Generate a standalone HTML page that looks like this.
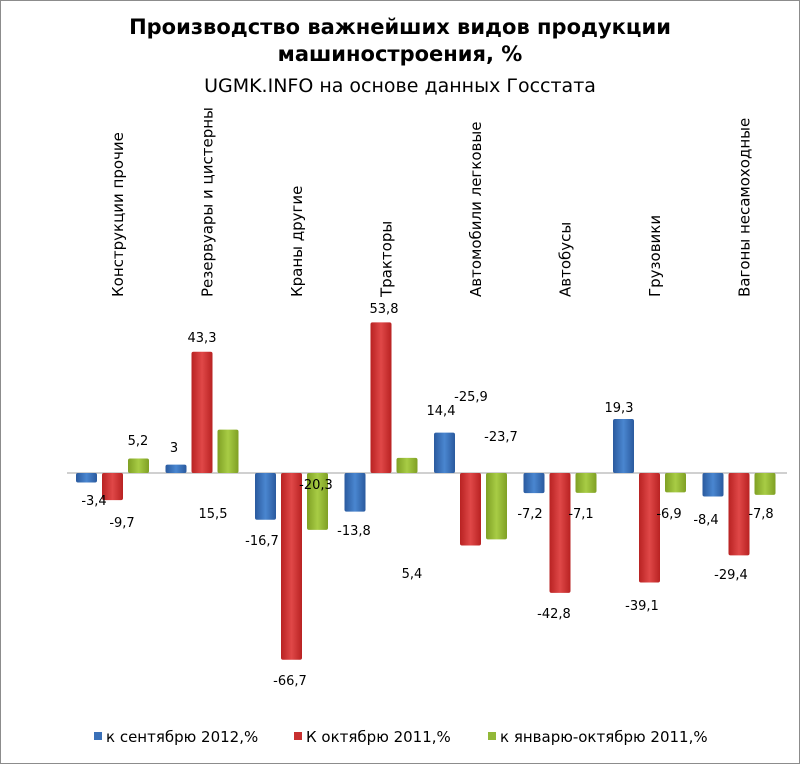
<!DOCTYPE html>
<html><head><meta charset="utf-8"><style>
html,body{margin:0;padding:0;background:#fff}
svg{display:block}
text{font-family:"DejaVu Sans","Liberation Sans",sans-serif;fill:#000}
</style></head><body>
<svg width="800" height="764" viewBox="0 0 800 764">
<defs>
<linearGradient id="b" x1="0" x2="1"><stop offset="0" stop-color="#2a5a9e"/><stop offset=".5" stop-color="#4a86d0"/><stop offset="1" stop-color="#2a5a9e"/></linearGradient>
<linearGradient id="r" x1="0" x2="1"><stop offset="0" stop-color="#b82222"/><stop offset=".5" stop-color="#e04848"/><stop offset="1" stop-color="#b82222"/></linearGradient>
<linearGradient id="g" x1="0" x2="1"><stop offset="0" stop-color="#7fa024"/><stop offset=".5" stop-color="#a8cc45"/><stop offset="1" stop-color="#7fa024"/></linearGradient>
</defs>
<rect x="0.5" y="0.5" width="799" height="763" fill="#fff" stroke="#8c8c8c"/>
<text x="400" y="34" text-anchor="middle" font-size="21" font-weight="bold">Производство важнейших видов продукции</text>
<text x="400" y="61" text-anchor="middle" font-size="21" font-weight="bold">машиностроения, %</text>
<text x="400" y="92" text-anchor="middle" font-size="19">UGMK.INFO на основе данных Госстата</text>
<line x1="67" y1="473" x2="787" y2="473" stroke="#a0a0a0"/>
<g id="bars"></g>
<g font-size="15" id="cats"></g>
<g font-size="13" text-anchor="middle" id="lbls">
<text x="94" y="505">-3,4</text><text x="122" y="527">-9,7</text><text x="138" y="445">5,2</text>
<text x="174" y="452">3</text><text x="202" y="342">43,3</text><text x="213" y="518">15,5</text>
<text x="262" y="545">-16,7</text><text x="290" y="685">-66,7</text><text x="316" y="489">-20,3</text>
<text x="354" y="535">-13,8</text><text x="384" y="313">53,8</text><text x="412" y="578">5,4</text>
<text x="441" y="415">14,4</text><text x="471" y="401">-25,9</text><text x="501" y="441">-23,7</text>
<text x="530" y="518">-7,2</text><text x="554" y="618">-42,8</text><text x="581" y="518">-7,1</text>
<text x="619" y="412">19,3</text><text x="642" y="610">-39,1</text><text x="669" y="518">-6,9</text>
<text x="706" y="524">-8,4</text><text x="731" y="579">-29,4</text><text x="761" y="518">-7,8</text>
</g>
<g font-size="15">
<rect x="94" y="732" width="8" height="8" fill="#3a70b8"/><text x="106" y="742">к сентябрю 2012,%</text>
<rect x="294" y="732" width="8" height="8" fill="#c83030"/><text x="306" y="742">К октябрю 2011,%</text>
<rect x="488" y="732" width="8" height="8" fill="#92b838"/><text x="500" y="742">к январю-октябрю 2011,%</text>
</g>
</svg>
<script>
var d=[[-3.4,-9.7,5.2],[3,43.3,15.5],[-16.7,-66.7,-20.3],[-13.8,53.8,5.4],[14.4,-25.9,-23.7],[-7.2,-42.8,-7.1],[19.3,-39.1,-6.9],[-8.4,-29.4,-7.8]];
var cats=["Конструкции прочие","Резервуары и цистерны","Краны другие","Тракторы","Автомобили легковые","Автобусы","Грузовики","Вагоны несамоходные"];
var f=["url(#b)","url(#r)","url(#g)"],s="",c="";
for(var i=0;i<8;i++){for(var j=0;j<3;j++){var x=76+i*89.5+j*26,v=d[i][j],h=Math.abs(v)*2.8,y=v>0?473-h:473;
s+='<rect x="'+x+'" y="'+y+'" width="21" height="'+h+'" rx="2" fill="'+f[j]+'"/>';}
var cx=76+i*89.5+42;c+='<text transform="translate('+(cx+5)+',297) rotate(-90)">'+cats[i]+'</text>';}
document.getElementById("bars").innerHTML=s;document.getElementById("cats").innerHTML=c;
</script>
</body></html>
